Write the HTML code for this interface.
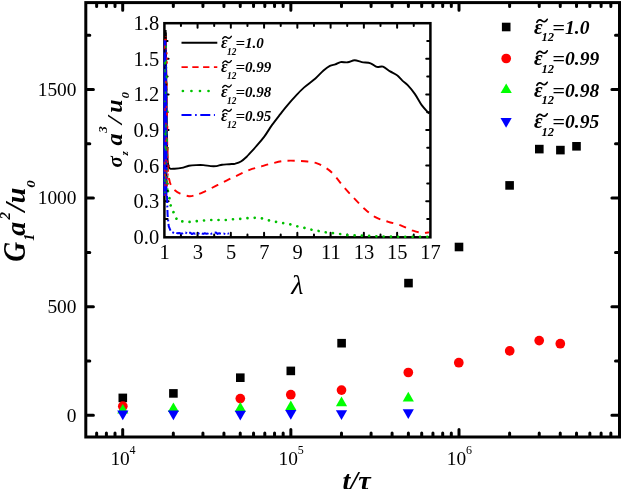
<!DOCTYPE html><html><head><meta charset="utf-8"><style>html,body{margin:0;padding:0;background:#fff}svg{display:block;will-change:transform}text{font-family:"Liberation Serif",serif;fill:#000}.bi{font-weight:bold;font-style:italic}</style></head><body>
<svg width="623" height="489" viewBox="0 0 623 489">
<rect width="623" height="489" fill="#fff"/>
<rect x="85.8" y="2.6" width="533.7" height="434.4" fill="none" stroke="#000" stroke-width="3"/>
<path d="M96.65 436.4V433.0M96.65 3.2V6.6M106.40 436.4V433.0M106.40 3.2V6.6M115.01 436.4V433.0M115.01 3.2V6.6M122.70 436.4V429.4M122.70 3.2V10.2M173.32 436.4V433.0M173.32 3.2V6.6M202.93 436.4V433.0M202.93 3.2V6.6M223.94 436.4V433.0M223.94 3.2V6.6M240.23 436.4V433.0M240.23 3.2V6.6M253.55 436.4V433.0M253.55 3.2V6.6M264.80 436.4V433.0M264.80 3.2V6.6M274.55 436.4V433.0M274.55 3.2V6.6M283.16 436.4V433.0M283.16 3.2V6.6M290.85 436.4V429.4M290.85 3.2V10.2M341.47 436.4V433.0M341.47 3.2V6.6M371.08 436.4V433.0M371.08 3.2V6.6M392.09 436.4V433.0M392.09 3.2V6.6M408.38 436.4V433.0M408.38 3.2V6.6M421.70 436.4V433.0M421.70 3.2V6.6M432.95 436.4V433.0M432.95 3.2V6.6M442.70 436.4V433.0M442.70 3.2V6.6M451.31 436.4V433.0M451.31 3.2V6.6M459.00 436.4V429.4M459.00 3.2V10.2M509.62 436.4V433.0M509.62 3.2V6.6M539.23 436.4V433.0M539.23 3.2V6.6M560.24 436.4V433.0M560.24 3.2V6.6M576.53 436.4V433.0M576.53 3.2V6.6M589.85 436.4V433.0M589.85 3.2V6.6M601.10 436.4V433.0M601.10 3.2V6.6M610.85 436.4V433.0M610.85 3.2V6.6M86.39999999999999 415.30H93.39999999999999M618.9 415.30H611.9M86.39999999999999 361.00H89.8M618.9 361.00H615.5M86.39999999999999 306.70H93.39999999999999M618.9 306.70H611.9M86.39999999999999 252.40H89.8M618.9 252.40H615.5M86.39999999999999 198.10H93.39999999999999M618.9 198.10H611.9M86.39999999999999 143.80H89.8M618.9 143.80H615.5M86.39999999999999 89.50H93.39999999999999M618.9 89.50H611.9M86.39999999999999 35.20H89.8M618.9 35.20H615.5" stroke="#000" stroke-width="3" stroke-linecap="round" fill="none"/>
<text x="76.5" y="421.60" font-size="19.4" text-anchor="end">0</text>
<text x="76.5" y="313.00" font-size="19.4" text-anchor="end">500</text>
<text x="76.5" y="204.40" font-size="19.4" text-anchor="end">1000</text>
<text x="76.5" y="95.80" font-size="19.4" text-anchor="end">1500</text>
<text x="110.40" y="464.6" font-size="19.4">10</text><text x="129.60" y="454.2" font-size="12">4</text>
<text x="278.55" y="464.6" font-size="19.4">10</text><text x="297.75" y="454.2" font-size="12">5</text>
<text x="446.70" y="464.6" font-size="19.4">10</text><text x="465.90" y="454.2" font-size="12">6</text>
<text class="bi" x="356.6" y="489.8" font-size="28" text-anchor="middle">t/&#964;</text>
<g transform="translate(25.4 261.6) rotate(-90)" class="bi"><text transform="translate(-0.2 0) scale(0.86 1)" font-size="32">G</text><text x="20.9" y="8.4" font-size="14">1</text><text x="25.8" y="0" font-size="28">a</text><text x="42.0" y="-15.4" font-size="15">2</text><text x="50.2" y="0" font-size="30">/</text><text x="58.4" y="0" font-size="28">u</text><text transform="translate(73.8 9.6) scale(1.3 1)" font-size="11.5">0</text></g>
<rect x="118.50" y="393.60" width="8.6" height="8.6" fill="#000"/>
<rect x="169.10" y="389.10" width="8.6" height="8.6" fill="#000"/>
<rect x="236.00" y="373.40" width="8.6" height="8.6" fill="#000"/>
<rect x="286.50" y="366.60" width="8.6" height="8.6" fill="#000"/>
<rect x="337.30" y="338.90" width="8.6" height="8.6" fill="#000"/>
<rect x="404.20" y="278.80" width="8.6" height="8.6" fill="#000"/>
<rect x="454.70" y="242.70" width="8.6" height="8.6" fill="#000"/>
<rect x="505.30" y="181.10" width="8.6" height="8.6" fill="#000"/>
<rect x="535.00" y="144.80" width="8.6" height="8.6" fill="#000"/>
<rect x="556.10" y="145.80" width="8.6" height="8.6" fill="#000"/>
<rect x="572.20" y="142.00" width="8.6" height="8.6" fill="#000"/>
<circle cx="122.80" cy="406.20" r="4.85" fill="#ff0000"/>
<circle cx="240.30" cy="398.60" r="4.85" fill="#ff0000"/>
<circle cx="290.80" cy="394.70" r="4.85" fill="#ff0000"/>
<circle cx="341.50" cy="390.10" r="4.85" fill="#ff0000"/>
<circle cx="408.30" cy="372.50" r="4.85" fill="#ff0000"/>
<circle cx="458.80" cy="362.70" r="4.85" fill="#ff0000"/>
<circle cx="509.70" cy="350.90" r="4.85" fill="#ff0000"/>
<circle cx="539.20" cy="340.60" r="4.85" fill="#ff0000"/>
<circle cx="560.30" cy="343.70" r="4.85" fill="#ff0000"/>
<polygon points="122.80,403.90 117.20,413.60 128.40,413.60" fill="#00ff00"/>
<polygon points="173.40,402.40 167.80,412.10 179.00,412.10" fill="#00ff00"/>
<polygon points="240.30,402.00 234.70,411.70 245.90,411.70" fill="#00ff00"/>
<polygon points="290.80,400.50 285.20,410.20 296.40,410.20" fill="#00ff00"/>
<polygon points="341.50,396.50 335.90,406.20 347.10,406.20" fill="#00ff00"/>
<polygon points="408.30,391.80 402.70,401.50 413.90,401.50" fill="#00ff00"/>
<polygon points="117.20,410.50 128.40,410.50 122.80,420.20" fill="#0000ff"/>
<polygon points="167.80,410.50 179.00,410.50 173.40,420.20" fill="#0000ff"/>
<polygon points="234.70,410.70 245.90,410.70 240.30,420.40" fill="#0000ff"/>
<polygon points="285.20,410.10 296.40,410.10 290.80,419.80" fill="#0000ff"/>
<polygon points="335.90,410.20 347.10,410.20 341.50,419.90" fill="#0000ff"/>
<polygon points="402.70,409.30 413.90,409.30 408.30,419.00" fill="#0000ff"/>
<rect x="501.90" y="22.70" width="8.6" height="8.6" fill="#000"/>
<circle cx="506.20" cy="58.50" r="4.85" fill="#ff0000"/>
<polygon points="506.20,83.40 500.60,93.10 511.80,93.10" fill="#00ff00"/>
<polygon points="500.50,118.00 511.70,118.00 506.10,127.70" fill="#0000ff"/>
<g class="bi"><text x="533.9" y="33.7" font-size="21">&#949;</text><text x="541.5" y="41.300000000000004" font-size="12.6">12</text><text transform="translate(552.34 33.7) scale(1.14 1)" font-size="19.5">=</text><text x="565.01" y="33.7" font-size="19.5">1.0</text></g><path d="M536.90 22.25c1.75 -2.90 3.40 -2.90 5.15 -1.45s3.40 1.45 5.15 -1.45" fill="none" stroke="#000" stroke-width="1.7" stroke-linecap="round"/>
<g class="bi"><text x="533.9" y="65.2" font-size="21">&#949;</text><text x="541.5" y="72.8" font-size="12.6">12</text><text transform="translate(552.34 65.2) scale(1.14 1)" font-size="19.5">=</text><text x="565.01" y="65.2" font-size="19.5">0.99</text></g><path d="M536.90 53.75c1.75 -2.90 3.40 -2.90 5.15 -1.45s3.40 1.45 5.15 -1.45" fill="none" stroke="#000" stroke-width="1.7" stroke-linecap="round"/>
<g class="bi"><text x="533.9" y="96.7" font-size="21">&#949;</text><text x="541.5" y="104.3" font-size="12.6">12</text><text transform="translate(552.34 96.7) scale(1.14 1)" font-size="19.5">=</text><text x="565.01" y="96.7" font-size="19.5">0.98</text></g><path d="M536.90 85.25c1.75 -2.90 3.40 -2.90 5.15 -1.45s3.40 1.45 5.15 -1.45" fill="none" stroke="#000" stroke-width="1.7" stroke-linecap="round"/>
<g class="bi"><text x="533.9" y="128.2" font-size="21">&#949;</text><text x="541.5" y="135.79999999999998" font-size="12.6">12</text><text transform="translate(552.34 128.2) scale(1.14 1)" font-size="19.5">=</text><text x="565.01" y="128.2" font-size="19.5">0.95</text></g><path d="M536.90 116.75c1.75 -2.90 3.40 -2.90 5.15 -1.45s3.40 1.45 5.15 -1.45" fill="none" stroke="#000" stroke-width="1.7" stroke-linecap="round"/>
<rect x="164.4" y="23.2" width="266.0" height="214.10000000000002" fill="#fff" stroke="none"/>
<rect x="164.4" y="23.2" width="266.0" height="214.10000000000002" fill="none" stroke="#000" stroke-width="2.5"/>
<path d="M180.93 236.9V234.4M180.93 23.599999999999998V26.099999999999998M197.56 236.9V232.70000000000002M197.56 23.599999999999998V27.799999999999997M214.19 236.9V234.4M214.19 23.599999999999998V26.099999999999998M230.82 236.9V232.70000000000002M230.82 23.599999999999998V27.799999999999997M247.45 236.9V234.4M247.45 23.599999999999998V26.099999999999998M264.08 236.9V232.70000000000002M264.08 23.599999999999998V27.799999999999997M280.71 236.9V234.4M280.71 23.599999999999998V26.099999999999998M297.34 236.9V232.70000000000002M297.34 23.599999999999998V27.799999999999997M313.97 236.9V234.4M313.97 23.599999999999998V26.099999999999998M330.60 236.9V232.70000000000002M330.60 23.599999999999998V27.799999999999997M347.23 236.9V234.4M347.23 23.599999999999998V26.099999999999998M363.86 236.9V232.70000000000002M363.86 23.599999999999998V27.799999999999997M380.49 236.9V234.4M380.49 23.599999999999998V26.099999999999998M397.12 236.9V232.70000000000002M397.12 23.599999999999998V27.799999999999997M413.75 236.9V234.4M413.75 23.599999999999998V26.099999999999998M164.8 41.00H167.6M430.0 41.00H427.2M164.8 58.80H168.6M430.0 58.80H426.2M164.8 76.60H167.6M430.0 76.60H427.2M164.8 94.40H168.6M430.0 94.40H426.2M164.8 112.20H167.6M430.0 112.20H427.2M164.8 130.00H168.6M430.0 130.00H426.2M164.8 147.80H167.6M430.0 147.80H427.2M164.8 165.60H168.6M430.0 165.60H426.2M164.8 183.40H167.6M430.0 183.40H427.2M164.8 201.20H168.6M430.0 201.20H426.2M164.8 219.00H167.6M430.0 219.00H427.2" stroke="#000" stroke-width="2" stroke-linecap="round" fill="none"/>
<path d="M165.6 30.0C165.7 38.3 166.1 61.7 166.3 80.0C166.5 98.3 166.8 126.7 167.0 140.0C167.2 153.3 167.3 155.6 167.6 160.0C167.9 164.4 168.2 165.1 168.6 166.5C169.0 167.9 169.1 168.3 170.1 168.7C171.1 169.1 172.6 168.8 174.5 168.7C176.4 168.6 179.3 168.4 181.7 167.9C184.1 167.4 186.5 166.3 188.9 165.8C191.3 165.3 193.7 165.2 196.1 165.1C198.5 165.0 201.0 164.9 203.4 165.1C205.8 165.3 208.4 165.9 210.6 166.1C212.8 166.3 214.5 166.3 216.4 166.1C218.3 165.9 219.9 165.0 222.1 164.7C224.3 164.4 227.2 164.4 229.4 164.2C231.6 164.0 233.2 164.1 235.1 163.7C237.0 163.2 239.0 162.7 240.9 161.5C242.8 160.3 245.2 158.1 246.7 156.7C248.2 155.3 248.4 154.8 250.0 153.1C251.6 151.4 253.7 149.2 256.0 146.5C258.4 143.8 261.4 140.5 264.1 136.9C266.8 133.3 269.4 128.7 272.1 124.9C274.8 121.2 277.7 117.5 280.1 114.4C282.5 111.3 283.8 109.5 286.5 106.3C289.2 103.1 293.2 98.6 296.2 95.4C299.1 92.2 301.0 90.2 304.2 87.4C307.4 84.6 312.2 81.3 315.4 78.5C318.6 75.7 321.1 72.6 323.5 70.5C325.9 68.4 327.9 66.9 329.9 65.9C331.9 64.9 333.5 65.0 335.3 64.4C337.1 63.8 338.5 62.5 340.6 62.1C342.7 61.8 345.4 62.6 347.7 62.3C350.0 62.0 352.3 60.3 354.7 60.3C357.1 60.3 359.1 61.6 361.8 62.1C364.5 62.6 368.1 62.5 370.6 63.3C373.1 64.1 374.7 66.3 376.8 66.9C378.9 67.5 380.8 66.0 383.0 66.7C385.2 67.5 387.8 70.0 390.1 71.4C392.5 72.8 395.1 73.8 397.1 75.3C399.2 76.8 400.6 79.0 402.4 80.6C404.2 82.2 405.6 82.9 407.7 85.1C409.8 87.3 412.4 90.5 414.8 93.9C417.2 97.3 419.5 102.1 421.9 105.4C424.3 108.7 428.0 112.2 429.2 113.6" fill="none" stroke="#000" stroke-width="1.9" stroke-linejoin="round"/>
<rect x="164" y="32.5" width="2.7" height="8" fill="#000"/>
<path d="M165.8 36.0C165.9 46.7 166.3 79.3 166.6 100.0C166.9 120.7 167.2 147.3 167.6 160.0C167.9 172.7 168.2 172.0 168.7 176.2C169.2 180.3 169.8 182.6 170.8 184.9C171.8 187.2 172.9 188.6 174.5 190.0C176.1 191.4 177.8 192.6 180.2 193.6C182.6 194.6 186.5 195.9 188.9 196.2C191.3 196.5 192.3 196.0 194.7 195.3C197.1 194.6 200.0 193.6 203.4 192.1C206.8 190.6 211.1 188.3 214.9 186.4C218.8 184.5 222.7 182.5 226.5 180.6C230.3 178.7 234.2 176.9 238.0 175.1C241.8 173.3 245.8 171.2 249.6 169.8C253.4 168.4 257.1 167.7 260.9 166.6C264.6 165.5 268.4 164.3 272.1 163.4C275.8 162.5 279.6 161.4 283.3 161.0C287.1 160.6 290.6 160.6 294.6 160.7C298.6 160.8 303.7 161.1 307.4 161.5C311.1 161.9 314.1 162.4 317.0 163.4C319.9 164.4 322.4 165.7 325.1 167.4C327.8 169.1 329.9 170.5 333.1 173.8C336.3 177.1 340.5 183.2 344.1 187.4C347.7 191.6 351.2 195.2 354.7 198.9C358.2 202.6 361.8 206.4 365.3 209.5C368.8 212.6 372.1 215.3 375.9 217.4C379.7 219.5 384.2 220.5 388.3 221.8C392.4 223.1 396.6 223.9 400.7 225.4C404.8 226.9 409.5 229.5 413.0 230.7C416.5 231.9 419.2 232.5 421.9 232.8C424.6 233.1 427.8 232.5 429.0 232.4" fill="none" stroke="#ff0000" stroke-width="1.9" stroke-dasharray="7.2 6.3" stroke-dashoffset="6.5" stroke-linejoin="round"/>
<path d="M165.8 46.0C165.9 58.3 166.2 97.7 166.4 120.0C166.6 142.3 166.9 168.2 167.2 180.0C167.4 191.8 167.5 187.8 167.9 190.8C168.3 193.8 168.9 195.6 169.4 198.1C169.9 200.6 170.2 203.7 170.8 206.0C171.5 208.3 172.5 210.0 173.3 211.8C174.1 213.6 174.8 215.2 175.6 216.8C176.4 218.4 177.0 220.4 178.1 221.2C179.2 222.0 180.5 221.3 182.4 221.4C184.3 221.5 187.2 221.9 189.6 221.9C192.0 221.9 194.4 221.4 196.8 221.2C199.2 221.0 201.7 220.7 204.1 220.5C206.5 220.3 208.9 220.1 211.3 220.0C213.7 219.9 216.1 220.0 218.5 220.0C220.9 220.0 223.4 220.1 225.7 220.0C228.0 219.9 230.0 219.5 232.3 219.3C234.6 219.1 237.2 219.2 239.5 219.0C241.8 218.8 244.1 218.4 246.4 218.2C248.8 218.0 251.2 217.8 253.6 217.8C256.0 217.8 258.5 217.8 260.9 218.2C263.3 218.6 265.7 219.6 268.1 220.2C270.5 220.8 272.9 221.2 275.3 221.7C277.7 222.2 280.1 222.6 282.5 223.0C284.9 223.4 287.4 223.8 289.8 224.3C292.2 224.8 294.6 225.6 297.0 226.2C299.4 226.8 301.8 227.2 304.2 227.8C306.6 228.4 309.0 229.2 311.4 229.7C313.8 230.2 316.3 230.6 318.7 231.0C321.1 231.4 323.5 232.0 325.9 232.3C328.3 232.7 330.8 232.8 333.1 233.1C335.4 233.4 337.1 233.6 339.5 233.9C341.9 234.2 344.0 234.8 347.7 235.1C351.4 235.4 357.1 235.4 361.8 235.6C366.5 235.8 371.2 236.1 375.9 236.3C380.6 236.5 385.3 236.5 390.0 236.6C394.7 236.7 397.7 236.8 404.0 236.8C410.3 236.8 424.0 236.8 428.0 236.8" fill="none" stroke="#00c000" stroke-width="2.7" stroke-dasharray="0.01 7.25" stroke-linecap="round" stroke-linejoin="round"/>
<polygon points="163.7,40 166.3,40 166.9,70 167.4,110 167.4,196 163.4,196 163.4,110" fill="#0000ff"/>
<rect x="167.0" y="110.5" width="1.5" height="1.7" fill="#00c400" opacity="0.85"/><rect x="164.4" y="62.9" width="1.5" height="3.0" fill="#000" opacity="0.85"/><rect x="165.2" y="173.7" width="1.5" height="2.6" fill="#000" opacity="0.85"/><rect x="165.2" y="124.3" width="1.5" height="3.2" fill="#00c400" opacity="0.85"/><rect x="167.0" y="147.0" width="1.5" height="3.4" fill="#00c400" opacity="0.85"/><rect x="164.4" y="145.4" width="1.5" height="3.3" fill="#00c400" opacity="0.85"/><rect x="165.7" y="181.3" width="1.5" height="2.7" fill="#00c400" opacity="0.85"/><rect x="164.7" y="194.2" width="1.5" height="1.6" fill="#ff0000" opacity="0.85"/><rect x="167.2" y="173.5" width="1.5" height="2.2" fill="#ff0000" opacity="0.85"/><rect x="166.1" y="52.3" width="1.5" height="2.1" fill="#ff0000" opacity="0.85"/><rect x="166.8" y="160.4" width="1.5" height="2.6" fill="#ff0000" opacity="0.85"/><rect x="165.1" y="159.3" width="1.5" height="2.1" fill="#ff0000" opacity="0.85"/><rect x="167.1" y="177.7" width="1.5" height="1.9" fill="#ff0000" opacity="0.85"/><rect x="163.8" y="47.5" width="1.5" height="2.6" fill="#ff0000" opacity="0.85"/><rect x="164.3" y="46.8" width="1.5" height="2.1" fill="#000" opacity="0.85"/><rect x="165.9" y="82.6" width="1.5" height="2.1" fill="#00c400" opacity="0.85"/><rect x="166.8" y="189.6" width="1.5" height="2.2" fill="#000" opacity="0.85"/><rect x="165.1" y="176.0" width="1.5" height="2.8" fill="#ff0000" opacity="0.85"/><rect x="166.4" y="57.8" width="1.5" height="2.0" fill="#ff0000" opacity="0.85"/><rect x="166.2" y="139.7" width="1.5" height="2.3" fill="#00c400" opacity="0.85"/><rect x="164.7" y="81.8" width="1.5" height="1.5" fill="#00c400" opacity="0.85"/><rect x="165.7" y="105.9" width="1.5" height="2.2" fill="#ff0000" opacity="0.85"/><rect x="164.3" y="132.7" width="1.5" height="2.4" fill="#00c400" opacity="0.85"/><rect x="165.0" y="146.6" width="1.5" height="2.9" fill="#00c400" opacity="0.85"/><rect x="164.0" y="45.4" width="1.5" height="3.3" fill="#ff0000" opacity="0.85"/><rect x="165.2" y="80.7" width="1.5" height="2.6" fill="#ff0000" opacity="0.85"/><rect x="164.3" y="69.3" width="1.5" height="3.1" fill="#00c400" opacity="0.85"/><rect x="166.2" y="82.7" width="1.5" height="3.0" fill="#ff0000" opacity="0.85"/><rect x="165.2" y="46.1" width="1.5" height="2.1" fill="#00c400" opacity="0.85"/><rect x="166.1" y="76.3" width="1.5" height="2.1" fill="#00c400" opacity="0.85"/><rect x="166.0" y="146.4" width="1.5" height="1.7" fill="#ff0000" opacity="0.85"/><rect x="164.8" y="91.6" width="1.5" height="2.3" fill="#00c400" opacity="0.85"/><rect x="164.4" y="173.8" width="1.5" height="2.9" fill="#00c400" opacity="0.85"/><rect x="165.5" y="75.6" width="1.5" height="1.9" fill="#00c400" opacity="0.85"/><rect x="165.2" y="60.6" width="1.5" height="2.1" fill="#00c400" opacity="0.85"/><rect x="165.8" y="170.8" width="1.5" height="2.1" fill="#00c400" opacity="0.85"/><rect x="164.1" y="169.5" width="1.5" height="2.2" fill="#ff0000" opacity="0.85"/><rect x="164.6" y="62.0" width="1.5" height="2.4" fill="#00c400" opacity="0.85"/><rect x="164.8" y="139.7" width="1.5" height="2.3" fill="#ff0000" opacity="0.85"/><rect x="164.3" y="183.8" width="1.5" height="2.4" fill="#ff0000" opacity="0.85"/><rect x="165.9" y="170.2" width="1.5" height="2.3" fill="#ff0000" opacity="0.85"/><rect x="167.0" y="188.3" width="1.5" height="1.6" fill="#00c400" opacity="0.85"/><rect x="166.4" y="112.3" width="1.5" height="3.3" fill="#ff0000" opacity="0.85"/><rect x="166.8" y="125.8" width="1.5" height="3.1" fill="#ff0000" opacity="0.85"/><rect x="164.2" y="191.5" width="1.5" height="1.6" fill="#00c400" opacity="0.85"/><rect x="166.2" y="181.2" width="1.5" height="3.2" fill="#00c400" opacity="0.85"/><rect x="165.8" y="180.5" width="1.5" height="2.4" fill="#ff0000" opacity="0.85"/><rect x="165.2" y="60.6" width="1.5" height="2.8" fill="#00c400" opacity="0.85"/><rect x="165.2" y="122.8" width="1.5" height="1.7" fill="#ff0000" opacity="0.85"/><rect x="166.4" y="61.3" width="1.5" height="2.4" fill="#ff0000" opacity="0.85"/><rect x="165.0" y="162.5" width="1.5" height="1.7" fill="#00c400" opacity="0.85"/><rect x="164.2" y="178.7" width="1.5" height="3.0" fill="#00c400" opacity="0.85"/><rect x="166.5" y="184.0" width="1.5" height="2.4" fill="#ff0000" opacity="0.85"/><rect x="165.2" y="129.9" width="1.5" height="2.0" fill="#00c400" opacity="0.85"/><rect x="165.6" y="137.2" width="1.5" height="2.4" fill="#ff0000" opacity="0.85"/><rect x="163.8" y="161.6" width="1.5" height="3.0" fill="#ff0000" opacity="0.85"/><rect x="163.9" y="49.1" width="1.5" height="3.4" fill="#000" opacity="0.85"/><rect x="164.1" y="173.6" width="1.5" height="2.4" fill="#ff0000" opacity="0.85"/><rect x="164.0" y="66.2" width="1.5" height="2.7" fill="#000" opacity="0.85"/><rect x="165.0" y="132.3" width="1.5" height="3.4" fill="#00c400" opacity="0.85"/><rect x="164.2" y="108.0" width="1.5" height="2.9" fill="#ff0000" opacity="0.85"/><rect x="164.1" y="100.6" width="1.5" height="1.6" fill="#00c400" opacity="0.85"/><rect x="166.0" y="113.0" width="1.5" height="2.2" fill="#ff0000" opacity="0.85"/><rect x="165.9" y="165.4" width="1.5" height="1.6" fill="#000" opacity="0.85"/><rect x="166.4" y="138.6" width="1.5" height="2.3" fill="#00c400" opacity="0.85"/><rect x="165.4" y="148.9" width="1.5" height="1.9" fill="#00c400" opacity="0.85"/><rect x="165.6" y="83.6" width="1.5" height="1.9" fill="#000" opacity="0.85"/><rect x="163.9" y="62.1" width="1.5" height="2.2" fill="#00c400" opacity="0.85"/><rect x="166.5" y="180.3" width="1.5" height="1.7" fill="#00c400" opacity="0.85"/><rect x="167.0" y="148.3" width="1.5" height="3.0" fill="#ff0000" opacity="0.85"/>
<rect x="164.3" y="38.8" width="2.4" height="1.6" fill="#ff0000"/>
<path d="M167.0 196.0 L167.6 215.0 L168.7 226.2 L170.8 231.3 L174.5 233.4 L176.0 232.8 L177.6 233.3 L179.2 233.0 L180.8 233.4 L182.4 233.5 L184.0 232.5 L185.6 232.4 L187.2 233.8 L188.8 232.8 L190.4 232.8 L192.0 234.1 L193.6 233.2 L195.2 233.8 L196.8 233.2 L198.4 233.5 L200.0 232.7 L201.6 233.5 L203.2 233.9 L204.8 233.3 L206.4 233.7 L208.0 233.5 L209.6 232.5 L211.2 233.7 L212.8 233.4 L214.4 232.9 L216.0 232.5 L217.6 233.9 L219.2 233.2 L220.8 233.6 L222.4 233.9 L224.0 233.6 L225.6 234.0 L227.2 233.1 L228.8 233.8" fill="none" stroke="#0000ff" stroke-width="2" stroke-dasharray="7 2.6 1.8 2.6" stroke-linejoin="round"/>
<text x="159.2" y="30.10" font-size="20.5" text-anchor="end">1.8</text>
<text x="159.2" y="65.70" font-size="20.5" text-anchor="end">1.5</text>
<text x="159.2" y="101.30" font-size="20.5" text-anchor="end">1.2</text>
<text x="159.2" y="136.90" font-size="20.5" text-anchor="end">0.9</text>
<text x="159.2" y="172.50" font-size="20.5" text-anchor="end">0.6</text>
<text x="159.2" y="208.10" font-size="20.5" text-anchor="end">0.3</text>
<text x="159.2" y="243.70" font-size="20.5" text-anchor="end">0.0</text>
<text x="164.50" y="258.5" font-size="20.5" text-anchor="middle">1</text>
<text x="197.76" y="258.5" font-size="20.5" text-anchor="middle">3</text>
<text x="231.02" y="258.5" font-size="20.5" text-anchor="middle">5</text>
<text x="264.28" y="258.5" font-size="20.5" text-anchor="middle">7</text>
<text x="297.54" y="258.5" font-size="20.5" text-anchor="middle">9</text>
<text x="330.80" y="258.5" font-size="20.5" text-anchor="middle">11</text>
<text x="364.06" y="258.5" font-size="20.5" text-anchor="middle">13</text>
<text x="397.32" y="258.5" font-size="20.5" text-anchor="middle">15</text>
<text x="430.58" y="258.5" font-size="20.5" text-anchor="middle">17</text>
<text x="297.2" y="293.8" font-size="28" font-style="italic" text-anchor="middle">&#955;</text>
<g transform="translate(121.6 168.2) rotate(-90)" class="bi"><text x="0.6" y="0" font-size="21">&#963;</text><text x="12.8" y="6.6" font-size="11">z</text><text x="22.6" y="0" font-size="24">a</text><text x="35.5" y="-14.2" font-size="13">3</text><text transform="translate(44.2 0) scale(1.25 1)" font-size="21.5">/</text><text x="55.4" y="0" font-size="24">u</text><text transform="translate(69.6 7.1) scale(1.3 1)" font-size="10">0</text></g>
<path d="M181.5 42.7H217.3" stroke="#000" stroke-width="1.9" fill="none"/>
<path d="M181.5 67.1H217.3" stroke="#ff0000" stroke-width="1.9" stroke-dasharray="6.3 4.5" fill="none"/>
<path d="M182.9 91.0H210" stroke="#00c400" stroke-width="2.7" stroke-dasharray="0.01 8.53" stroke-linecap="round" fill="none"/>
<path d="M181.5 115.0H214.9" stroke="#0000ff" stroke-width="1.9" stroke-dasharray="10 3.6 1.6 3.6" fill="none"/>
<g class="bi"><text x="220.9" y="47.9" font-size="16">&#949;</text><text x="227.1" y="54.8" font-size="9.3">12</text><text transform="translate(235.47 47.9) scale(1.12 1)" font-size="15">=</text><text x="245.05" y="47.9" font-size="15">1.0</text></g><path d="M222.70 38.70c1.46 -2.40 2.84 -2.40 4.30 -1.20s2.84 1.20 4.30 -1.20" fill="none" stroke="#000" stroke-width="1.4" stroke-linecap="round"/>
<g class="bi"><text x="220.9" y="72.25" font-size="16">&#949;</text><text x="227.1" y="79.15" font-size="9.3">12</text><text transform="translate(235.47 72.25) scale(1.12 1)" font-size="15">=</text><text x="245.05" y="72.25" font-size="15">0.99</text></g><path d="M222.70 63.05c1.46 -2.40 2.84 -2.40 4.30 -1.20s2.84 1.20 4.30 -1.20" fill="none" stroke="#000" stroke-width="1.4" stroke-linecap="round"/>
<g class="bi"><text x="220.9" y="96.6" font-size="16">&#949;</text><text x="227.1" y="103.5" font-size="9.3">12</text><text transform="translate(235.47 96.6) scale(1.12 1)" font-size="15">=</text><text x="245.05" y="96.6" font-size="15">0.98</text></g><path d="M222.70 87.40c1.46 -2.40 2.84 -2.40 4.30 -1.20s2.84 1.20 4.30 -1.20" fill="none" stroke="#000" stroke-width="1.4" stroke-linecap="round"/>
<g class="bi"><text x="220.9" y="120.95000000000002" font-size="16">&#949;</text><text x="227.1" y="127.85000000000002" font-size="9.3">12</text><text transform="translate(235.47 120.95000000000002) scale(1.12 1)" font-size="15">=</text><text x="245.05" y="120.95000000000002" font-size="15">0.95</text></g><path d="M222.70 111.75c1.46 -2.40 2.84 -2.40 4.30 -1.20s2.84 1.20 4.30 -1.20" fill="none" stroke="#000" stroke-width="1.4" stroke-linecap="round"/>
</svg></body></html>
